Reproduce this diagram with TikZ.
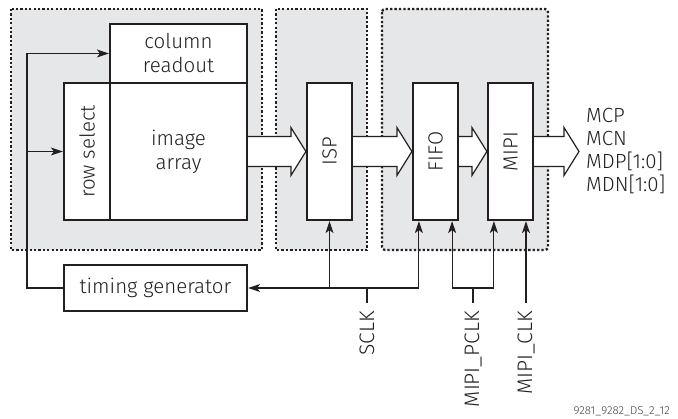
\documentclass[tikz,border=0pt]{standalone}
\usepackage{graphicx}
\usepackage{fontspec}
\setmainfont{Fira Sans}[UprightFont=* Light]
\usetikzlibrary{arrows.meta, calc}
\definecolor{panelgray}{RGB}{230, 231, 232}
\definecolor{inkdark}{RGB}{35, 31, 32}

% wide data arrow from one block to the next
\newcommand{\fatlink}[2]{%
  \filldraw[fatarr] let \p1=(#1), \p2=(#2) in
    (\x1,\y1+15pt) -- (\x2-15pt,\y1+15pt) -- (\x2-15pt,\y1+24pt) -- (\x2,\y1)
    -- (\x2-15pt,\y1-24pt) -- (\x2-15pt,\y1-15pt) -- (\x1,\y1-15pt);}

\begin{document}
\begin{tikzpicture}[x=1pt, y=-1pt, >={Stealth[length=12pt, width=8pt, inset=3pt]},
  panel/.style={fill=panelgray, draw=inkdark, line width=2.3pt, dash pattern=on 2.3pt off 2.1pt},
  blockbox/.style={draw=inkdark, fill=white, line width=2.2pt, inner sep=0pt, align=center, text=inkdark, font=\fontsize{20.5}{24}\selectfont},
  sigline/.style={draw=inkdark, line width=1.1pt},
  clklabel/.style={rotate=90, anchor=east, text=inkdark, inner sep=8pt, font=\fontsize{21}{24}\selectfont},
  fatarr/.style={fill=white, draw=inkdark, line width=1.2pt, line join=miter}]

  \useasboundingbox (0,0) rectangle (678,419);

  % Shaded panels
  \draw[panel] (11,9) rectangle (262,250);
  \draw[panel] (276,9) rectangle (367,250);
  \draw[panel, rounded corners=3pt] (382,9) rectangle (548,250);

  % Sensor core
  \node[blockbox, minimum width=137pt, minimum height=59pt] (colread) at (178.5,53.5) {column\\readout};
  \node[blockbox, minimum width=46pt, minimum height=137pt] (rowsel) at (87,151.5) {\rotatebox{90}{row select}};
  \node[blockbox, minimum width=137pt, minimum height=137pt] (imgarr) at (178.5,151.5) {image\\array};
  \node[blockbox, minimum width=183pt, minimum height=46pt] (timgen) at (155.5,288) {timing generator};

  % Processing and output
  \node[blockbox, minimum width=45pt, minimum height=137pt] (isp) at (329.5,151.5) {\rotatebox{90}{ISP}};
  \node[blockbox, minimum width=45pt, minimum height=137pt] (fifo) at (435.5,151.5) {\rotatebox{90}{FIFO}};
  \node[blockbox, minimum width=45pt, minimum height=137pt] (mipi) at (510.5,151.5) {\rotatebox{90}{MIPI}};
  \coordinate (outtip) at (579,151.5);
  \node[text=inkdark, align=left, anchor=west, inner sep=0pt, font=\fontsize{20.5}{22.7}\selectfont] (mipiout) at (586,151) {MCP\\MCN\\MDP[1:0]\\MDN[1:0]};

  % Data path
  \fatlink{imgarr.east}{isp.west}
  \fatlink{isp.east}{fifo.west}
  \fatlink{fifo.east}{mipi.west}
  \fatlink{mipi.east}{outtip}

  % Timing generator to array
  \coordinate (tgturn) at (27,288);
  \draw[sigline, ->] (timgen.west) -- (tgturn) |- (colread.west);
  \draw[sigline, ->] (tgturn |- rowsel.west) -- (rowsel.west);

  % Clock inputs
  \node[clklabel] (sclk) at (367,303) {SCLK};
  \node[clklabel] (mpclk) at (473,303) {MIPI\_PCLK};
  \node[clklabel] (mclk) at (526,303) {MIPI\_CLK};

  \draw[sigline] (sclk.east) -- (sclk.east |- timgen.east);
  \draw[sigline, <->] ([xshift=7pt]fifo.south west) |- (timgen.east);
  \draw[sigline, ->] (isp.south |- timgen.east) -- (isp.south);

  \draw[sigline] (mpclk.east) -- (mpclk.east |- timgen.east);
  \draw[sigline, <->] ([xshift=-7pt]fifo.south east) |- ([xshift=7pt]mipi.south west |- timgen.east) -- ([xshift=7pt]mipi.south west);

  \draw[sigline, ->] (mclk.east) -- (mclk.east |- mipi.south);

  \node[anchor=east, text=inkdark!85, inner sep=0pt, font=\fontsize{11.5}{13}\selectfont] (docid) at (670,411) {9281\_9282\_DS\_2\_12};
\end{tikzpicture}
\end{document}
